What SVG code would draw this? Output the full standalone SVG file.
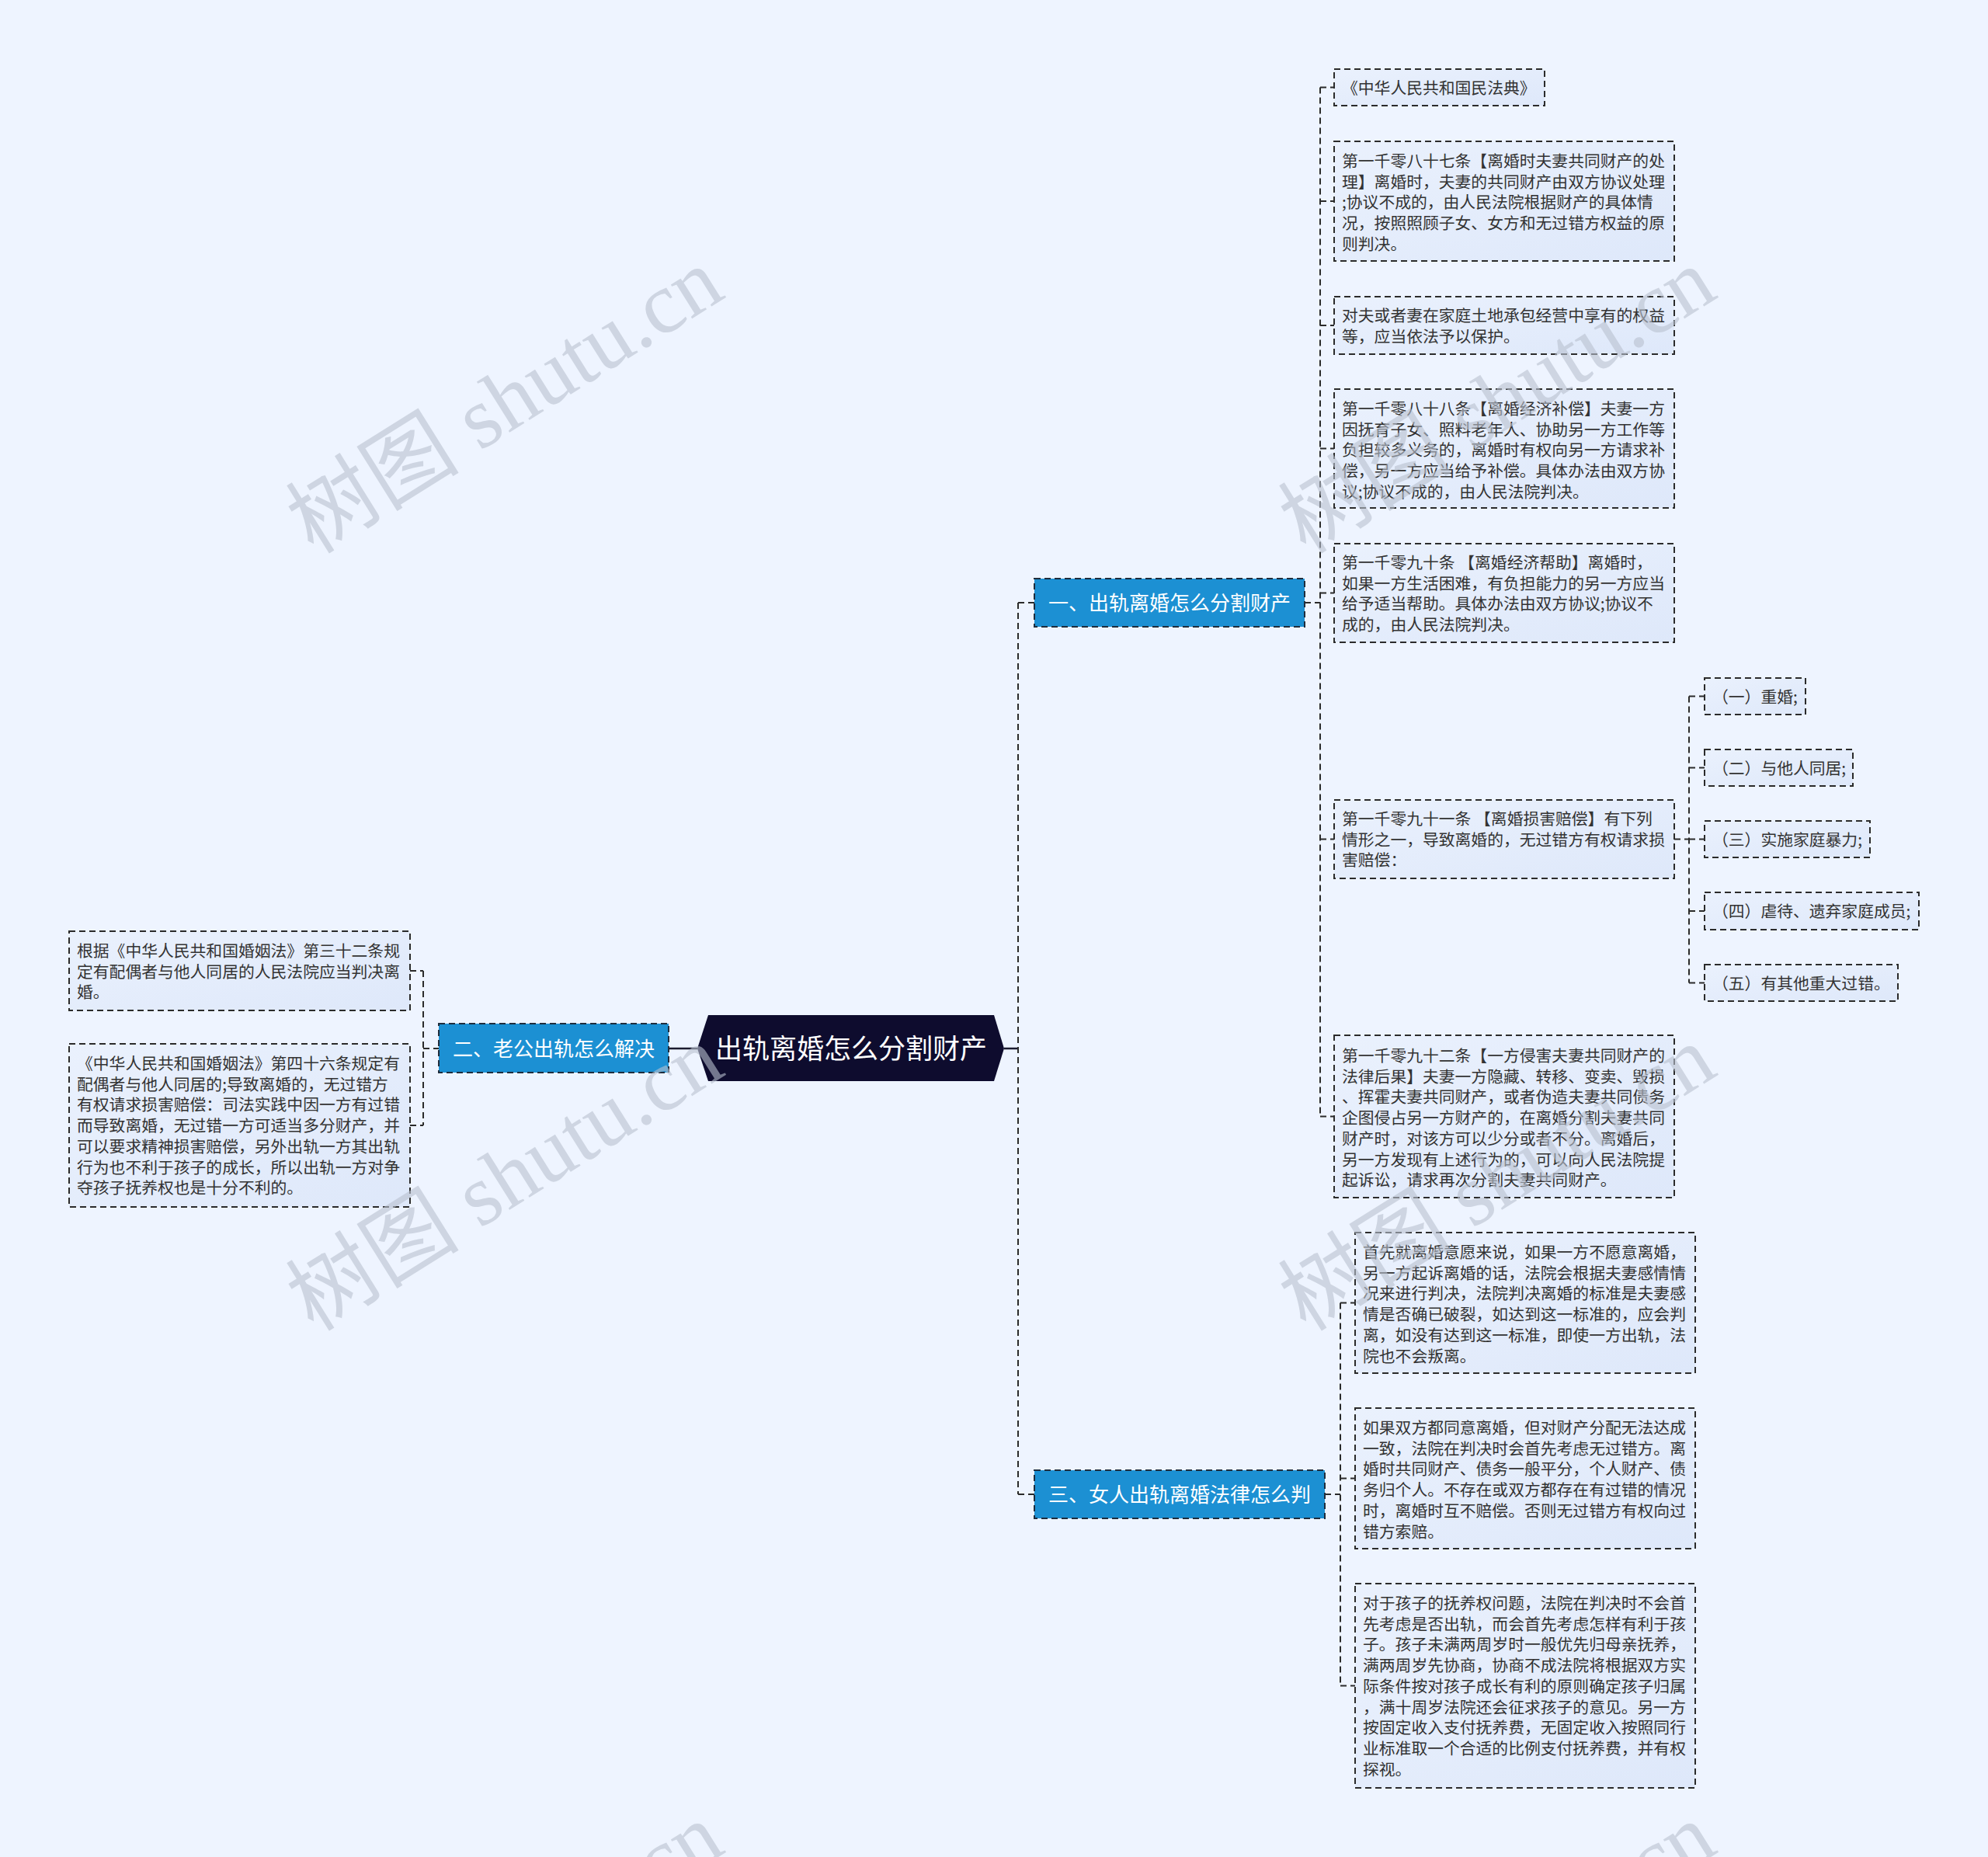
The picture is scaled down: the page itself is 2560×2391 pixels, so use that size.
<svg xmlns="http://www.w3.org/2000/svg" width="2560" height="2391" viewBox="0 0 2560 2391">
<defs>
<linearGradient id="nodeFill" x1="0" y1="0" x2="1" y2="1">
<stop offset="0" stop-color="#eaf1fd"/>
<stop offset="1" stop-color="#dee8fa"/>
</linearGradient>
<style>
.bg{fill:#eef4ff}
.node{fill:url(#nodeFill);stroke:#2b2b2b;stroke-width:2;stroke-dasharray:8 5}
.branch{fill:#1c90d3;stroke:#1f2d3d;stroke-width:2;stroke-dasharray:8 5}
.t{font-family:"Noto Sans CJK SC","Microsoft YaHei",sans-serif;font-size:20.8px;fill:#333333}
.bt{font-family:"Noto Sans CJK SC","Microsoft YaHei",sans-serif;font-size:26px;fill:#ffffff;text-anchor:middle}
.ct{font-family:"Noto Sans CJK SC","Microsoft YaHei",sans-serif;font-size:35px;fill:#ffffff;text-anchor:middle}
.c{fill:none;stroke:#2b2b2b;stroke-width:2;stroke-dasharray:8 5}
.s{fill:none;stroke:#1a1a2e;stroke-width:2.5}
.wm{font-family:"Liberation Serif","Noto Sans CJK SC",serif;font-size:112px;fill:#b9c1cf;opacity:0.6;text-anchor:middle}
</style>
</defs>
<rect class="bg" x="0" y="0" width="2560" height="2391"/>

<g id="connectors">
<path class="s" d="M1293 1350H1311"/>
<path class="s" d="M861 1350H898"/>
<path class="c" d="M1311 776V1924M1311 776H1332M1311 1924H1332"/>
<path class="c" d="M1680 776H1700M1700 112.5V1437.5"/>
<path class="c" d="M1700 112.5H1718M1700 259H1718M1700 419H1718M1700 577.5H1718M1700 763.5H1718M1700 1080.5H1718M1700 1437.5H1718"/>
<path class="c" d="M2156 1080.5H2175M2175 896.5V1265.5"/>
<path class="c" d="M2175 896.5H2195M2175 988.5H2195M2175 1080.5H2195M2175 1173H2195M2175 1265.5H2195"/>
<path class="c" d="M545 1350H565M545 1250V1449M528 1250H545M528 1449H545"/>
<path class="c" d="M1706 1924H1726M1726 1677.5V2170.5M1726 1677.5H1745M1726 1903.5H1745M1726 2170.5H1745"/>
</g>

<g id="center">
<polygon points="898,1350 912,1307 1280,1307 1293,1350 1280,1392 912,1392" fill="#0e0c2e"/>
<text class="ct" x="1096" y="1363">出轨离婚怎么分割财产</text>
</g>

<g id="branch1">
<rect class="branch" x="1332" y="745" width="348" height="62"/>
<text class="bt" x="1506" y="786">一、出轨离婚怎么分割财产</text>
</g>
<g id="branch2">
<rect class="branch" x="565" y="1318" width="296" height="63"/>
<text class="bt" x="713" y="1360">二、老公出轨怎么解决</text>
</g>
<g id="branch3">
<rect class="branch" x="1332" y="1893" width="374" height="62"/>
<text class="bt" x="1519" y="1934">三、女人出轨离婚法律怎么判</text>
</g>

<g id="c1">
<rect class="node" x="1718" y="89" width="271" height="47"/>
<text class="t" x="1728" y="121">《中华人民共和国民法典》</text>
</g>
<g id="c2">
<rect class="node" x="1718" y="182" width="438" height="154"/>
<text class="t"><tspan x="1728" y="215">第一千零八十七条【离婚时夫妻共同财产的处</tspan><tspan x="1728" y="241.7">理】离婚时，夫妻的共同财产由双方协议处理</tspan><tspan x="1728" y="268.4">;协议不成的，由人民法院根据财产的具体情</tspan><tspan x="1728" y="295.1">况，按照照顾子女、女方和无过错方权益的原</tspan><tspan x="1728" y="321.8">则判决。</tspan></text>
</g>
<g id="c3">
<rect class="node" x="1718" y="382" width="438" height="74"/>
<text class="t"><tspan x="1728" y="414">对夫或者妻在家庭土地承包经营中享有的权益</tspan><tspan x="1728" y="440.7">等，应当依法予以保护。</tspan></text>
</g>
<g id="c4">
<rect class="node" x="1718" y="501" width="438" height="153"/>
<text class="t"><tspan x="1728" y="534">第一千零八十八条【离婚经济补偿】夫妻一方</tspan><tspan x="1728" y="560.7">因抚育子女、照料老年人、协助另一方工作等</tspan><tspan x="1728" y="587.4">负担较多义务的，离婚时有权向另一方请求补</tspan><tspan x="1728" y="614.1">偿，另一方应当给予补偿。具体办法由双方协</tspan><tspan x="1728" y="640.8">议;协议不成的，由人民法院判决。</tspan></text>
</g>
<g id="c5">
<rect class="node" x="1718" y="700" width="438" height="127"/>
<text class="t"><tspan x="1728" y="732">第一千零九十条 【离婚经济帮助】离婚时，</tspan><tspan x="1728" y="758.7">如果一方生活困难，有负担能力的另一方应当</tspan><tspan x="1728" y="785.4">给予适当帮助。具体办法由双方协议;协议不</tspan><tspan x="1728" y="812.1">成的，由人民法院判决。</tspan></text>
</g>
<g id="c6">
<rect class="node" x="1718" y="1030" width="438" height="101"/>
<text class="t"><tspan x="1728" y="1062">第一千零九十一条 【离婚损害赔偿】有下列</tspan><tspan x="1728" y="1088.7">情形之一，导致离婚的，无过错方有权请求损</tspan><tspan x="1728" y="1115.4">害赔偿：</tspan></text>
</g>
<g id="s1">
<rect class="node" x="2195" y="873" width="130" height="47"/>
<text class="t" x="2205" y="905">（一）重婚;</text>
</g>
<g id="s2">
<rect class="node" x="2195" y="965" width="191" height="47"/>
<text class="t" x="2205" y="997">（二）与他人同居;</text>
</g>
<g id="s3">
<rect class="node" x="2195" y="1057" width="213" height="47"/>
<text class="t" x="2205" y="1089">（三）实施家庭暴力;</text>
</g>
<g id="s4">
<rect class="node" x="2195" y="1149" width="276" height="48"/>
<text class="t" x="2205" y="1181">（四）虐待、遗弃家庭成员;</text>
</g>
<g id="s5">
<rect class="node" x="2195" y="1242" width="249" height="47"/>
<text class="t" x="2205" y="1274">（五）有其他重大过错。</text>
</g>
<g id="c7">
<rect class="node" x="1718" y="1333" width="438" height="209"/>
<text class="t"><tspan x="1728" y="1367">第一千零九十二条【一方侵害夫妻共同财产的</tspan><tspan x="1728" y="1393.7">法律后果】夫妻一方隐藏、转移、变卖、毁损</tspan><tspan x="1728" y="1420.4">、挥霍夫妻共同财产，或者伪造夫妻共同债务</tspan><tspan x="1728" y="1447.1">企图侵占另一方财产的，在离婚分割夫妻共同</tspan><tspan x="1728" y="1473.8">财产时，对该方可以少分或者不分。离婚后，</tspan><tspan x="1728" y="1500.5">另一方发现有上述行为的，可以向人民法院提</tspan><tspan x="1728" y="1527.2">起诉讼，请求再次分割夫妻共同财产。</tspan></text>
</g>

<g id="L1">
<rect class="node" x="89" y="1199" width="439" height="102"/>
<text class="t"><tspan x="99" y="1232">根据《中华人民共和国婚姻法》第三十二条规</tspan><tspan x="99" y="1258.7">定有配偶者与他人同居的人民法院应当判决离</tspan><tspan x="99" y="1285.4">婚。</tspan></text>
</g>
<g id="L2">
<rect class="node" x="89" y="1344" width="439" height="210"/>
<text class="t"><tspan x="99" y="1377">《中华人民共和国婚姻法》第四十六条规定有</tspan><tspan x="99" y="1403.7">配偶者与他人同居的;导致离婚的，无过错方</tspan><tspan x="99" y="1430.4">有权请求损害赔偿：司法实践中因一方有过错</tspan><tspan x="99" y="1457.1">而导致离婚，无过错一方可适当多分财产，并</tspan><tspan x="99" y="1483.8">可以要求精神损害赔偿，另外出轨一方其出轨</tspan><tspan x="99" y="1510.5">行为也不利于孩子的成长，所以出轨一方对争</tspan><tspan x="99" y="1537.2">夺孩子抚养权也是十分不利的。</tspan></text>
</g>

<g id="A">
<rect class="node" x="1745" y="1587" width="438" height="181"/>
<text class="t"><tspan x="1755" y="1620">首先就离婚意愿来说，如果一方不愿意离婚，</tspan><tspan x="1755" y="1646.7">另一方起诉离婚的话，法院会根据夫妻感情情</tspan><tspan x="1755" y="1673.4">况来进行判决，法院判决离婚的标准是夫妻感</tspan><tspan x="1755" y="1700.1">情是否确已破裂，如达到这一标准的，应会判</tspan><tspan x="1755" y="1726.8">离，如没有达到这一标准，即使一方出轨，法</tspan><tspan x="1755" y="1753.5">院也不会叛离。</tspan></text>
</g>
<g id="B">
<rect class="node" x="1745" y="1813" width="438" height="181"/>
<text class="t"><tspan x="1755" y="1846">如果双方都同意离婚，但对财产分配无法达成</tspan><tspan x="1755" y="1872.7">一致，法院在判决时会首先考虑无过错方。离</tspan><tspan x="1755" y="1899.4">婚时共同财产、债务一般平分，个人财产、债</tspan><tspan x="1755" y="1926.1">务归个人。不存在或双方都存在有过错的情况</tspan><tspan x="1755" y="1952.8">时，离婚时互不赔偿。否则无过错方有权向过</tspan><tspan x="1755" y="1979.5">错方索赔。</tspan></text>
</g>
<g id="C">
<rect class="node" x="1745" y="2039" width="438" height="263"/>
<text class="t"><tspan x="1755" y="2072">对于孩子的抚养权问题，法院在判决时不会首</tspan><tspan x="1755" y="2098.7">先考虑是否出轨，而会首先考虑怎样有利于孩</tspan><tspan x="1755" y="2125.4">子。孩子未满两周岁时一般优先归母亲抚养，</tspan><tspan x="1755" y="2152.1">满两周岁先协商，协商不成法院将根据双方实</tspan><tspan x="1755" y="2178.8">际条件按对孩子成长有利的原则确定孩子归属</tspan><tspan x="1755" y="2205.5">，满十周岁法院还会征求孩子的意见。另一方</tspan><tspan x="1755" y="2232.2">按固定收入支付抚养费，无固定收入按照同行</tspan><tspan x="1755" y="2258.9">业标准取一个合适的比例支付抚养费，并有权</tspan><tspan x="1755" y="2285.6">探视。</tspan></text>
</g>

<g id="watermarks">
<text class="wm" transform="translate(650,516) rotate(-32)" y="38">树图 shutu.cn</text>
<text class="wm" transform="translate(1928,516) rotate(-32)" y="38">树图 shutu.cn</text>
<text class="wm" transform="translate(650,1517) rotate(-32)" y="38">树图 shutu.cn</text>
<text class="wm" transform="translate(1928,1517) rotate(-32)" y="38">树图 shutu.cn</text>
<text class="wm" transform="translate(650,2518) rotate(-32)" y="38">树图 shutu.cn</text>
<text class="wm" transform="translate(1928,2518) rotate(-32)" y="38">树图 shutu.cn</text>
</g>
</svg>
